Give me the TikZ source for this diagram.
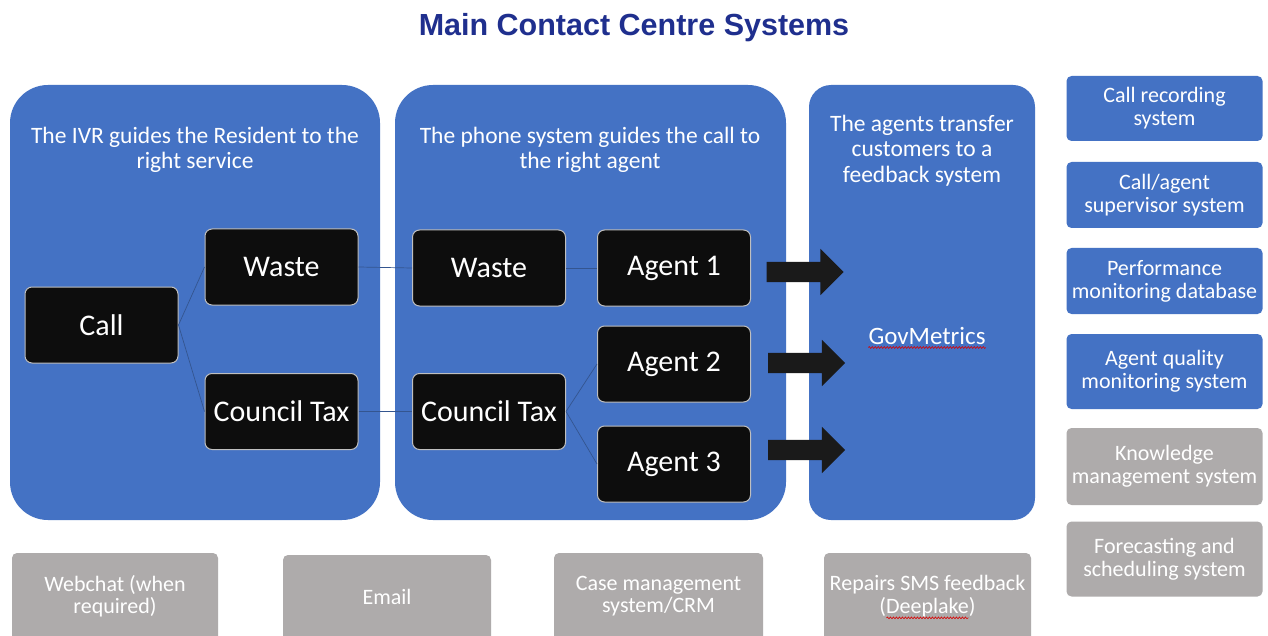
\documentclass[tikz,border=0pt]{standalone}
\usepackage{fontspec}
\setmainfont{Carlito}
\newfontfamily\titlefont{Liberation Sans}
\usetikzlibrary{shapes.arrows,decorations.pathmorphing}

\definecolor{panelblue}{HTML}{4472C4}
\definecolor{boxblack}{HTML}{0D0D0D}
\definecolor{boxgray}{HTML}{AEABAB}
\definecolor{titleblue}{HTML}{1F2F8E}
\definecolor{linkline}{HTML}{34558F}
\definecolor{arrowfill}{HTML}{1A1A1A}

\tikzset{
  panel/.style={fill=panelblue, rounded corners=38, inner sep=0},
  paneltext/.style={text=white, align=center, inner sep=0,
    font=\fontsize{23.5}{25.5}\selectfont},
  blackbox/.style={draw=black!25, line width=1pt, fill=boxblack,
    rounded corners=7, text=white, minimum width=153, minimum height=76,
    inner sep=0, font=\fontsize{30}{32}\selectfont},
  sidebox/.style={rounded corners=5, minimum width=196, text=white,
    align=center, inner sep=0, font=\fontsize{22}{23}\selectfont},
  bluebox/.style={sidebox, fill=panelblue},
  greybox/.style={sidebox, fill=boxgray},
  boxlabel/.style={text=white, align=center, inner sep=0,
    font=\fontsize{22}{22.5}\selectfont},
  link/.style={draw=linkline, line width=0.7pt},
  blockarrow/.style={single arrow, fill=arrowfill, inner sep=0,
    minimum height=77, single arrow head extend=13,
    single arrow head indent=0},
  squiggle/.style={draw=red!85!black, line width=0.6pt,
    decorate, decoration={snake, amplitude=0.9pt, segment length=3pt}}
}
% shaft thickness of the transfer arrows
\newcommand{\shaft}{\rule{0pt}{20pt}}

\begin{document}
\begin{tikzpicture}[x=1pt, y=-1pt]
  \useasboundingbox (0,0) rectangle (1268,636);
  \clip (0,0) rectangle (1268,636);
  \fill[white] (0,0) rectangle (1268,636);

  % title
  \node[text=titleblue, inner sep=0, anchor=base,
        font=\titlefont\bfseries\fontsize{30.5}{33}\selectfont]
    (title) at (634,36) {Main Contact Centre Systems};

  % three stages
  \node[panel, minimum width=370, minimum height=435] (ivr) at (195,302.5) {};
  \node[panel, minimum width=391, minimum height=435] (phone) at (590.5,302.5) {};
  \node[panel, rounded corners=22, minimum width=226, minimum height=435] (feedback) at (922,302.5) {};

  \node[paneltext] (ivrtext) at (195,150) {The IVR guides the Resident to the\\right service};
  \node[paneltext] (phonetext) at (590,150) {The phone system guides the call to\\the right agent};
  \node[paneltext] (feedbacktext) at (922,150.5) {The agents transfer\\customers to a\\feedback system};

  % routing boxes
  \node[blackbox] (call)   at (101.5,325)   {Call};
  \node[blackbox] (waste1) at (281.5,267)   {Waste};
  \node[blackbox] (ctax1)  at (281.5,411.5) {Council Tax};
  \node[blackbox] (waste2) at (489,268)     {Waste};
  \node[blackbox] (ctax2)  at (489,411.5)   {Council Tax};
  \node[blackbox] (agent1) at (674,268)     {Agent 1};
  \node[blackbox] (agent2) at (674,364)     {Agent 2};
  \node[blackbox] (agent3) at (674,464)     {Agent 3};

  \draw[link] (call.east) -- (waste1.west);
  \draw[link] (call.east) -- (ctax1.west);
  \draw[link] (waste1.east) -- (waste2.west);
  \draw[link] (ctax1.east) -- (ctax2.west);
  \draw[link] (waste2.east) -- (agent1.west);
  \draw[link] (ctax2.east) -- (agent2.west);
  \draw[link] (ctax2.east) -- (agent3.west);

  % transfers to feedback
  \node[blockarrow] (arrow1) at (800,272) {\shaft};
  \node[blockarrow] (arrow2) at (801.5,363) {\shaft};
  \node[blockarrow] (arrow3) at (801.5,450) {\shaft};

  \node[paneltext, font=\fontsize{25}{27}\selectfont] (govmetrics) at (927,336) {GovMetrics};
  \draw[squiggle] ([yshift=-3pt]govmetrics.base west) -- ([yshift=-3pt]govmetrics.base east);

  % supporting systems, right column
  \node[bluebox, minimum height=65] (recording)   at (1164.5,108.5) {Call recording\\system};
  \node[bluebox, minimum height=66] (supervisor)  at (1164.5,195)   {Call/agent\\supervisor system};
  \node[bluebox, minimum height=66] (performance) at (1164.5,281)   {Performance\\monitoring database};
  \node[bluebox, minimum height=75] (quality)     at (1164.5,371.5) {Agent quality\\monitoring system};
  \node[greybox, minimum height=77] (knowledge)   at (1164.5,466.5) {Knowledge\\management system};
  \node[greybox, minimum height=75] (forecasting) at (1164.5,559)   {Forecasting and\\scheduling system};

  % other channels, bottom row
  \node[greybox, minimum width=206, minimum height=100] (webchat) at (115,603)   {};
  \node[greybox, minimum width=208, minimum height=100] (email)   at (387,605)   {};
  \node[greybox, minimum width=209, minimum height=100] (casemgmt) at (658.5,603) {};
  \node[greybox, minimum width=207, minimum height=100] (repairs) at (927.5,603) {};

  \node[boxlabel] (webchattext)  at (115,596)   {Webchat (when\\required)};
  \node[boxlabel] (emailtext)    at (387,597)   {Email};
  \node[boxlabel] (casetext)     at (658.5,596) {Case management\\system/CRM};
  \node[boxlabel] (repairstext)  at (927.5,596) {Repairs SMS feedback\\(Deeplake)};
  \draw[squiggle] ([xshift=-41pt,yshift=-1pt]repairstext.south) -- ([xshift=41pt,yshift=-1pt]repairstext.south);
\end{tikzpicture}
\end{document}
